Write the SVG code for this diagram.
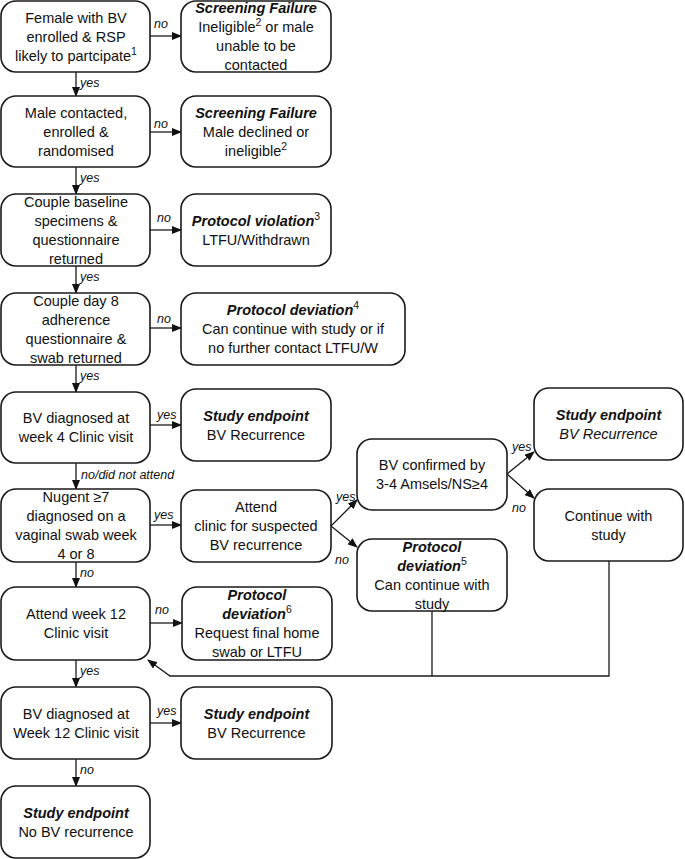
<svg xmlns="http://www.w3.org/2000/svg" width="685" height="859" viewBox="0 0 685 859">
<defs>
<marker id="ah" markerWidth="10" markerHeight="8" refX="9" refY="4" orient="auto" markerUnits="userSpaceOnUse">
<path d="M0,0 L10,4 L0,8 z" fill="#111"/>
</marker>
<style>
.box{fill:#fff;stroke:#1a1a1a;stroke-width:1.6}
text{font-family:"Liberation Sans",Arial,sans-serif;font-size:14.5px;fill:#111;text-anchor:middle}
.h{font-weight:bold;font-style:italic}
.i{font-style:italic}
.lbl{font-size:12.5px;font-style:italic;text-anchor:start}
.sup{font-size:10.5px}
.c{fill:none;stroke:#1a1a1a;stroke-width:1.3}
.a{marker-end:url(#ah)}
</style>
</defs>
<rect width="685" height="859" fill="#fff"/>
<g id="connectors">
<line class="c a" x1="76" y1="72" x2="76" y2="96"/>
<line class="c a" x1="76" y1="167" x2="76" y2="194"/>
<line class="c a" x1="76" y1="266" x2="76" y2="293"/>
<line class="c a" x1="76" y1="365" x2="76" y2="392"/>
<line class="c a" x1="76" y1="463" x2="76" y2="489"/>
<line class="c a" x1="76" y1="562" x2="76" y2="587"/>
<line class="c a" x1="76" y1="660" x2="76" y2="687"/>
<line class="c a" x1="76" y1="759" x2="76" y2="786"/>
<line class="c a" x1="150" y1="36" x2="181" y2="36"/>
<line class="c a" x1="150" y1="132" x2="181" y2="132"/>
<line class="c a" x1="150" y1="230" x2="181" y2="230"/>
<line class="c a" x1="150" y1="328" x2="181" y2="328"/>
<line class="c a" x1="150" y1="425" x2="181" y2="425"/>
<line class="c a" x1="150" y1="525" x2="181" y2="525"/>
<line class="c a" x1="150" y1="623" x2="182" y2="623"/>
<line class="c a" x1="150" y1="723" x2="181" y2="723"/>
<line class="c a" x1="331" y1="526" x2="357" y2="500"/>
<line class="c a" x1="331" y1="526" x2="357" y2="547"/>
<line class="c a" x1="507" y1="474" x2="534" y2="452"/>
<line class="c a" x1="507" y1="474" x2="534" y2="498"/>
<polyline class="c a" points="609,561 609,676 170,676 148,660"/>
<line class="c" x1="432" y1="611" x2="432" y2="676"/>
<text class="lbl" x="80" y="87">yes</text>
<text class="lbl" x="80" y="182">yes</text>
<text class="lbl" x="80" y="281">yes</text>
<text class="lbl" x="80" y="380">yes</text>
<text class="lbl" x="81" y="479">no/did not attend</text>
<text class="lbl" x="80" y="577">no</text>
<text class="lbl" x="80" y="675">yes</text>
<text class="lbl" x="80" y="774">no</text>
<text class="lbl" x="154" y="28">no</text>
<text class="lbl" x="154" y="128">no</text>
<text class="lbl" x="157" y="222">no</text>
<text class="lbl" x="157" y="323">no</text>
<text class="lbl" x="157" y="419">yes</text>
<text class="lbl" x="154" y="519">yes</text>
<text class="lbl" x="155" y="614">no</text>
<text class="lbl" x="157" y="715">yes</text>
<text class="lbl" x="336" y="501">yes</text>
<text class="lbl" x="335" y="564">no</text>
<text class="lbl" x="512" y="451">yes</text>
<text class="lbl" x="512" y="512">no</text>
</g>
<g id="n1">
<rect class="box" x="1" y="1" width="149" height="71" rx="15"/>
<text x="76" y="22.5">Female with BV</text>
<text x="76" y="41.5">enrolled &amp; RSP</text>
<text x="76" y="60.5">likely to partcipate<tspan class="sup" baseline-shift="super">1</tspan></text>
</g>
<g id="sf1">
<rect class="box" x="181" y="1" width="150" height="71" rx="15"/>
<text class="h" x="256" y="13">Screening Failure</text>
<text x="256" y="32">Ineligible<tspan class="sup" baseline-shift="super">2</tspan> or male</text>
<text x="256" y="51">unable to be</text>
<text x="256" y="70">contacted</text>
</g>
<g id="n2">
<rect class="box" x="1" y="96" width="149" height="71" rx="15"/>
<text x="76" y="118">Male contacted,</text>
<text x="76" y="137">enrolled &amp;</text>
<text x="76" y="156">randomised</text>
</g>
<g id="sf2">
<rect class="box" x="181" y="96" width="150" height="71" rx="15"/>
<text class="h" x="256" y="118">Screening Failure</text>
<text x="256" y="137">Male declined or</text>
<text x="256" y="156">ineligible<tspan class="sup" baseline-shift="super">2</tspan></text>
</g>
<g id="n3">
<rect class="box" x="1" y="194" width="149" height="72" rx="15"/>
<text x="76" y="207">Couple baseline</text>
<text x="76" y="226">specimens &amp;</text>
<text x="76" y="245">questionnaire</text>
<text x="76" y="264">returned</text>
</g>
<g id="pv3">
<rect class="box" x="181" y="194" width="150" height="72" rx="15"/>
<text x="256" y="226"><tspan class="h">Protocol violation</tspan><tspan class="sup" baseline-shift="super">3</tspan></text>
<text x="256" y="245">LTFU/Withdrawn</text>
</g>
<g id="n4">
<rect class="box" x="1" y="293" width="149" height="72" rx="15"/>
<text x="76" y="306">Couple day 8</text>
<text x="76" y="325">adherence</text>
<text x="76" y="344">questionnaire &amp;</text>
<text x="76" y="363">swab returned</text>
</g>
<g id="pd4">
<rect class="box" x="181" y="293" width="224" height="72" rx="15"/>
<text x="293" y="315"><tspan class="h">Protocol deviation</tspan><tspan class="sup" baseline-shift="super">4</tspan></text>
<text x="293" y="334">Can continue with study or if</text>
<text x="293" y="353">no further contact LTFU/W</text>
</g>
<g id="n5">
<rect class="box" x="1" y="392" width="149" height="71" rx="15"/>
<text x="76" y="423">BV diagnosed at</text>
<text x="76" y="442">week 4 Clinic visit</text>
</g>
<g id="se5">
<rect class="box" x="181" y="389" width="150" height="72" rx="15"/>
<text class="h" x="256" y="420.5">Study endpoint</text>
<text x="256" y="439.5">BV Recurrence</text>
</g>
<g id="n6">
<rect class="box" x="1" y="489" width="149" height="73" rx="15"/>
<text x="76" y="502">Nugent ≥7</text>
<text x="76" y="521">diagnosed on a</text>
<text x="76" y="540">vaginal swab week</text>
<text x="76" y="559">4 or 8</text>
</g>
<g id="ac6">
<rect class="box" x="181" y="490" width="150" height="72" rx="15"/>
<text x="256" y="512">Attend</text>
<text x="256" y="531">clinic for suspected</text>
<text x="256" y="550">BV recurrence</text>
</g>
<g id="bvc">
<rect class="box" x="357" y="439" width="150" height="71" rx="15"/>
<text x="432" y="470">BV confirmed by</text>
<text x="432" y="489">3-4 Amsels/NS≥4</text>
</g>
<g id="se-r">
<rect class="box" x="534" y="388" width="149" height="72" rx="15"/>
<text class="h" x="608.5" y="419.5">Study endpoint</text>
<text class="i" x="608.5" y="438.5">BV Recurrence</text>
</g>
<g id="cws">
<rect class="box" x="534" y="489" width="149" height="72" rx="15"/>
<text x="608.5" y="520.5">Continue with</text>
<text x="608.5" y="539.5">study</text>
</g>
<g id="pd5">
<rect class="box" x="357" y="539" width="150" height="72" rx="15"/>
<text class="h" x="432" y="551.5">Protocol</text>
<text x="432" y="570.5"><tspan class="h">deviation</tspan><tspan class="sup" baseline-shift="super">5</tspan></text>
<text x="432" y="589.5">Can continue with</text>
<text x="432" y="608.5">study</text>
</g>
<g id="n7">
<rect class="box" x="1" y="587" width="149" height="73" rx="15"/>
<text x="76" y="619">Attend week 12</text>
<text x="76" y="638">Clinic visit</text>
</g>
<g id="pd6">
<rect class="box" x="182" y="587" width="150" height="73" rx="15"/>
<text class="h" x="257" y="600">Protocol</text>
<text x="257" y="619"><tspan class="h">deviation</tspan><tspan class="sup" baseline-shift="super">6</tspan></text>
<text x="257" y="638">Request final home</text>
<text x="257" y="657">swab or LTFU</text>
</g>
<g id="n8">
<rect class="box" x="1" y="687" width="149" height="72" rx="15"/>
<text x="76" y="718.5">BV diagnosed at</text>
<text x="76" y="737.5">Week 12 Clinic visit</text>
</g>
<g id="se8">
<rect class="box" x="181" y="687" width="151" height="72" rx="15"/>
<text class="h" x="256.5" y="718.5">Study endpoint</text>
<text x="256.5" y="737.5">BV Recurrence</text>
</g>
<g id="n9">
<rect class="box" x="1" y="786" width="149" height="72" rx="15"/>
<text class="h" x="76" y="817.5">Study endpoint</text>
<text x="76" y="836.5">No BV recurrence</text>
</g>
</svg>
